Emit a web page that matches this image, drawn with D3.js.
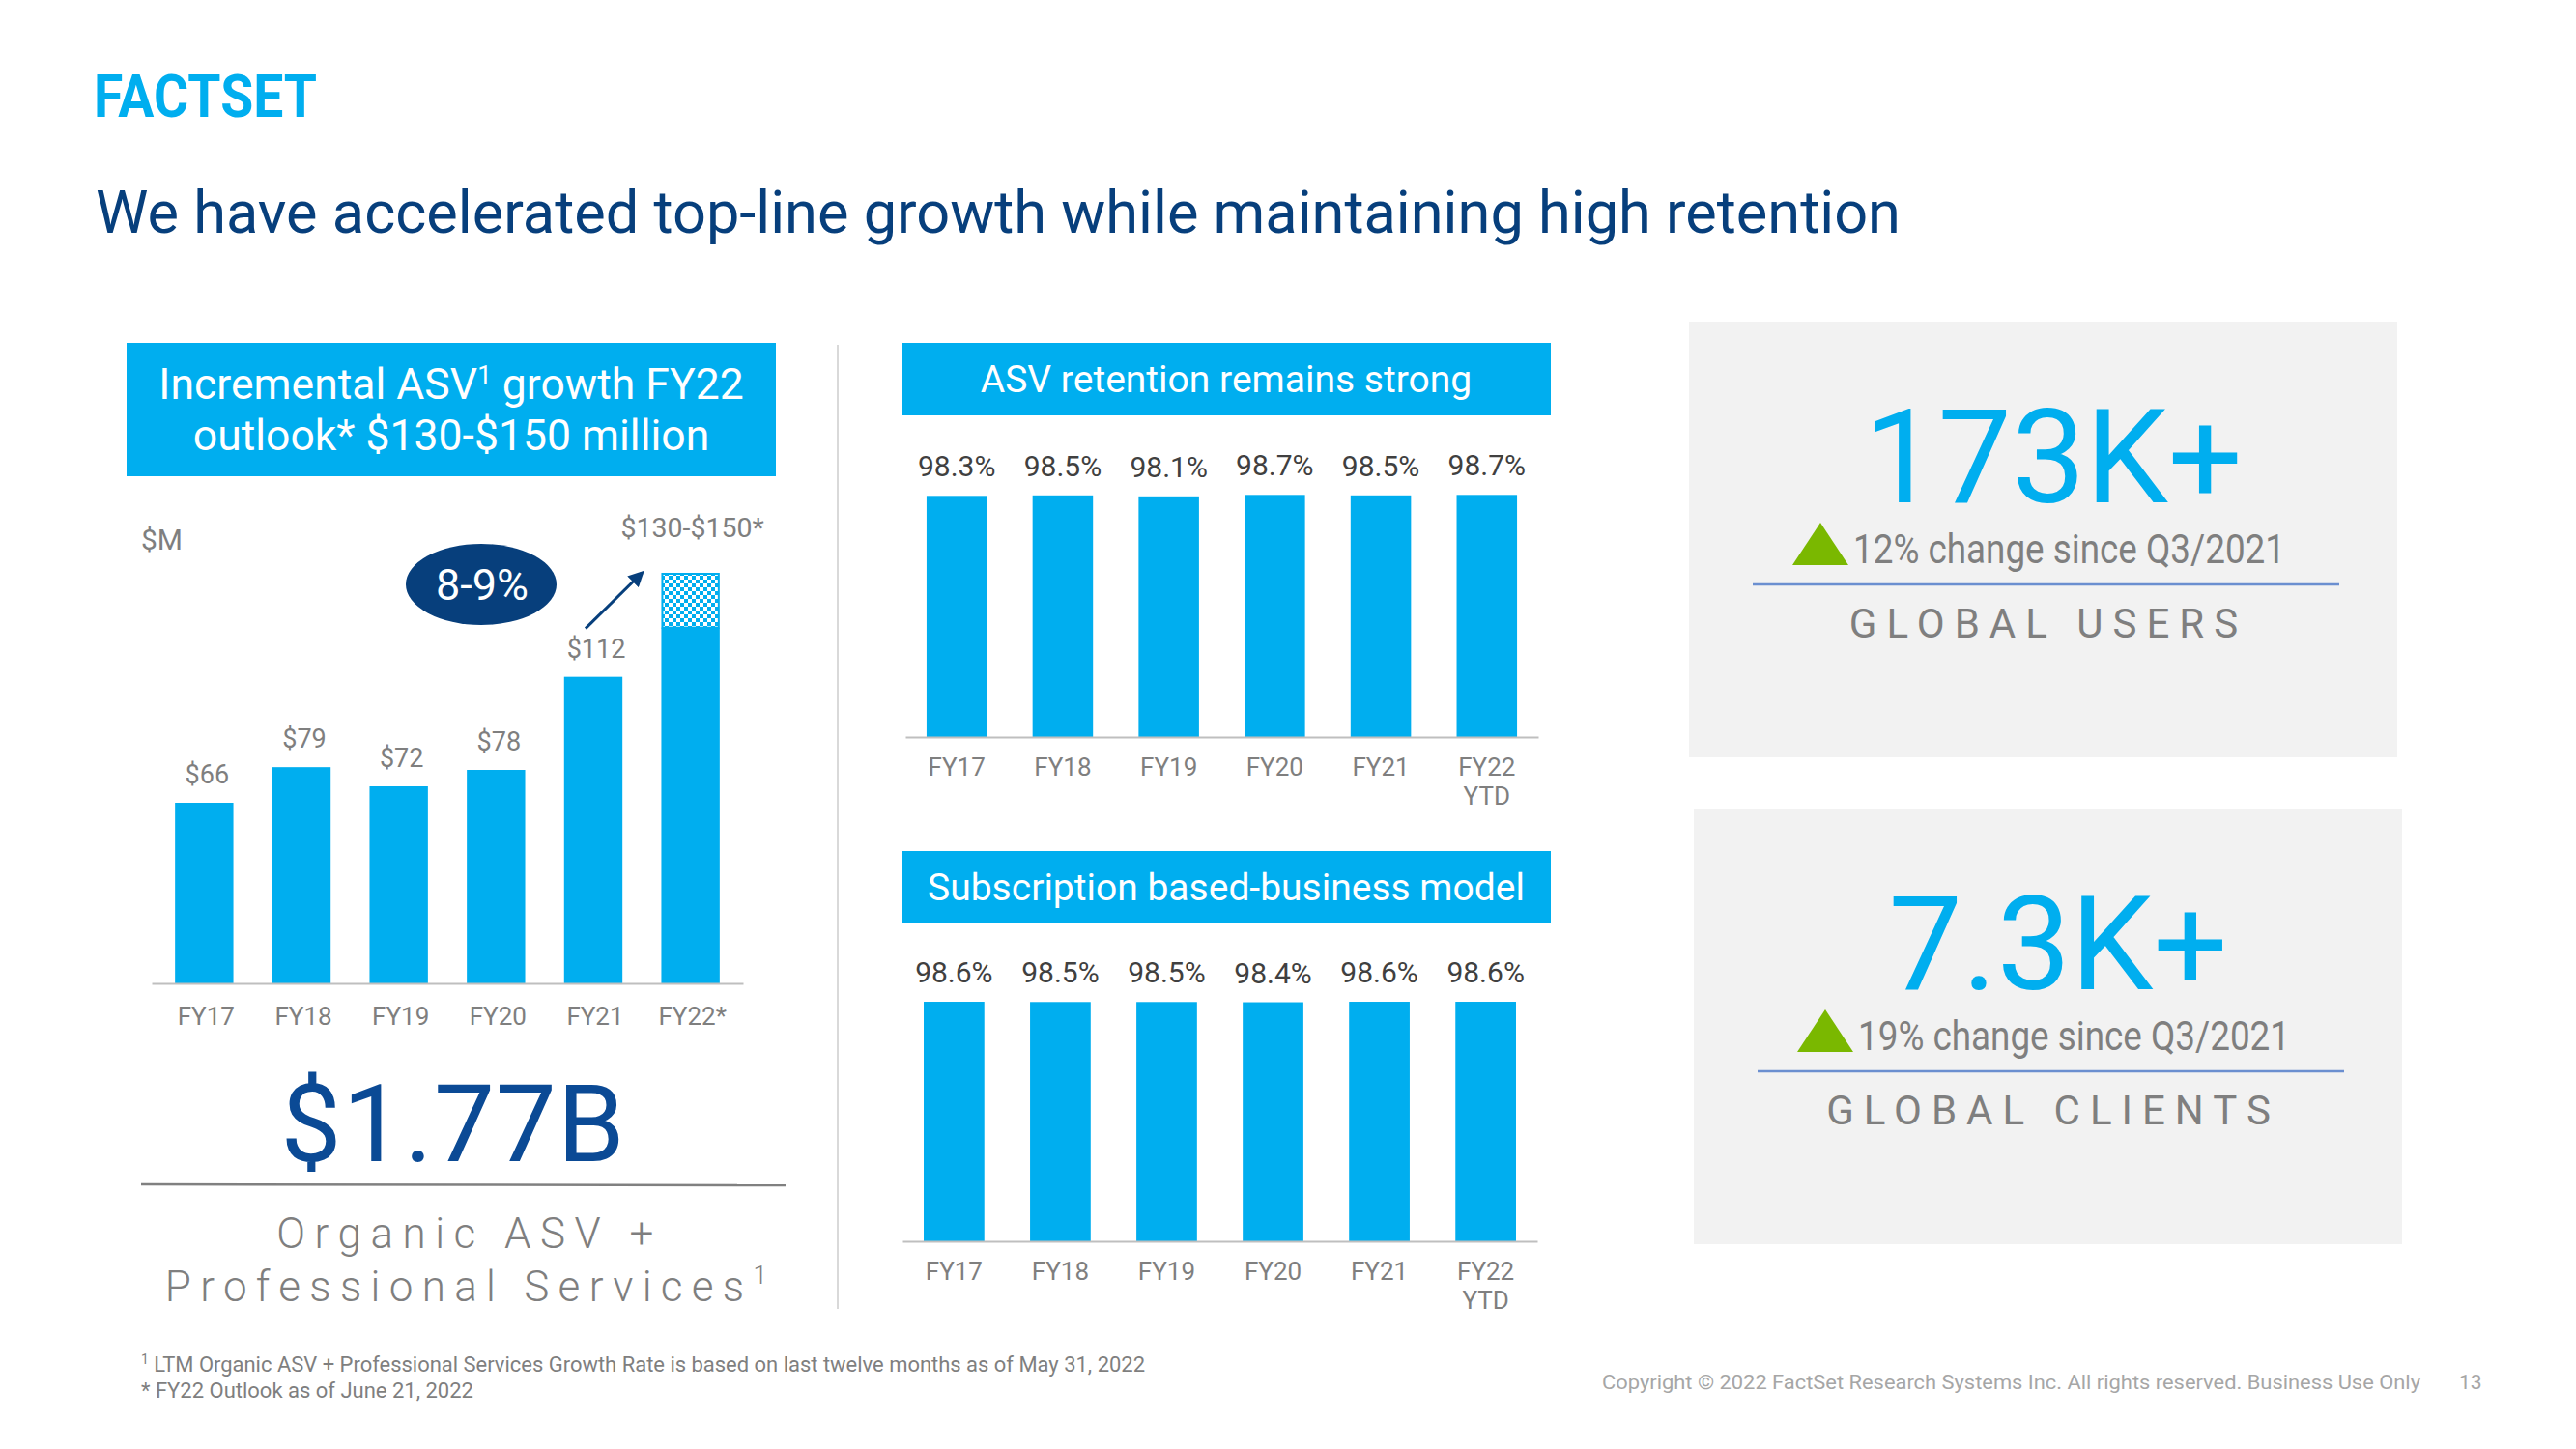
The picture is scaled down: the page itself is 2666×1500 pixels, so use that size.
<!DOCTYPE html>
<html><head><meta charset="utf-8">
<script src="https://cdn.jsdelivr.net/npm/d3@7"></script>
<style>
html,body{margin:0;padding:0;background:#fff;}
svg{display:block;font-family:Roboto,"Noto Sans",sans-serif;}
</style></head><body>
<svg id="chart" width="2666" height="1500"></svg>
<script>
// ---------------- data ----------------
const asvYears = ["FY17","FY18","FY19","FY20","FY21","FY22*"];
const asvIncrement = [66, 79, 72, 78, 112, 130];   // $M (FY22 solid = low end of outlook)
const fy22OutlookHigh = 150;                        // $M, top of outlook range (checkered)
const fy22OutlookLabel = "$130-$150*";
const growthBadge = "8-9%";

const retentionYears = ["FY17","FY18","FY19","FY20","FY21","FY22 YTD"];
const asvRetention = [98.3, 98.5, 98.1, 98.7, 98.5, 98.7];
const subscriptionRetention = [98.6, 98.5, 98.5, 98.4, 98.6, 98.6];

const kpiNumbers = ["173K+", "7.3K+"];
const kpiChanges = ["12%", "19%"];
const kpiNames = ["GLOBAL USERS", "GLOBAL CLIENTS"];

const organicTotal = "$1.77B";

// ---------------- styles ----------------
const CYAN = "#00AEEF", NAVY = "#073F7C", GRAY = "#7F7F7F", DARK = "#404040";

const svg = d3.select("#chart");
svg.append("rect").attr("width", 2666).attr("height", 1500).attr("fill", "#fff");

const defs = svg.append("defs");
const pat = defs.append("pattern").attr("id", "checker").attr("patternUnits", "userSpaceOnUse")
  .attr("width", 8).attr("height", 8);
pat.append("rect").attr("width", 8).attr("height", 8).attr("fill", "#fff");
pat.append("rect").attr("width", 4).attr("height", 4).attr("fill", CYAN);
pat.append("rect").attr("x", 4).attr("y", 4).attr("width", 4).attr("height", 4).attr("fill", CYAN);
const mk = defs.append("marker").attr("id", "arrowhead").attr("viewBox", "0 0 10 10")
  .attr("refX", 8).attr("refY", 5).attr("markerWidth", 5.5).attr("markerHeight", 5.5).attr("orient", "auto");
mk.append("path").attr("d", "M0,0 L10,5 L0,10 z").attr("fill", NAVY);

// ---------------- logo + title ----------------
svg.append("text").attr("x", 97).attr("y", 121).attr("font-size", 62).attr("font-weight", 700)
  .attr("fill", CYAN).attr("textLength", 231).attr("lengthAdjust", "spacingAndGlyphs").text("FACTSET");
svg.append("text").attr("x", 99).attr("y", 241).attr("font-size", 61.3).attr("fill", NAVY)
  .text("We have accelerated top-line growth while maintaining high retention");

// ---------------- left panel ----------------
svg.append("rect").attr("x", 131).attr("y", 355).attr("width", 672).attr("height", 138).attr("fill", CYAN);
const h1 = svg.append("text").attr("text-anchor", "middle").attr("font-size", 44.5).attr("fill", "#fff");
const l1 = h1.append("tspan").attr("x", 467).attr("y", 413);
l1.append("tspan").text("Incremental ASV");
l1.append("tspan").attr("font-size", 26).attr("dy", -16).text("1");
l1.append("tspan").attr("dy", 16).text(" growth FY22");
h1.append("tspan").attr("x", 467).attr("y", 466).text("outlook* $130-$150 million");

svg.append("text").attr("x", 146).attr("y", 569).attr("font-size", 30).attr("fill", GRAY).text("$M");

const x1 = d3.scaleBand().domain(asvYears).range([157, 769]).paddingInner(0.4).paddingOuter(0.24);
const y1 = d3.scaleLinear().domain([0, fy22OutlookHigh]).range([1018, 593]);

svg.append("g").selectAll("rect").data(asvYears).join("rect")
  .attr("x", d => x1(d)).attr("width", x1.bandwidth())
  .attr("y", (d, i) => y1(asvIncrement[i])).attr("height", (d, i) => y1(0) - y1(asvIncrement[i]))
  .attr("fill", CYAN);
const lastYear = asvYears[asvYears.length - 1];
svg.append("rect").attr("x", x1(lastYear) + 1).attr("width", x1.bandwidth() - 2)
  .attr("y", y1(fy22OutlookHigh) + 1).attr("height", y1(asvIncrement[5]) - y1(fy22OutlookHigh) - 1)
  .attr("fill", "url(#checker)").attr("stroke", CYAN).attr("stroke-width", 2);

svg.append("g").selectAll("text").data(asvYears.slice(0, 5)).join("text")
  .attr("x", d => x1(d) + x1.bandwidth() / 2 + 3).attr("y", (d, i) => y1(asvIncrement[i]) - 20)
  .attr("text-anchor", "middle").attr("font-size", 27).attr("fill", GRAY)
  .text((d, i) => "$" + asvIncrement[i]);
svg.append("text").attr("x", x1(lastYear) + x1.bandwidth() / 2 + 2).attr("y", y1(fy22OutlookHigh) - 37)
  .attr("text-anchor", "middle").attr("font-size", 28.5).attr("fill", GRAY).text(fy22OutlookLabel);

const ax1 = svg.append("g").attr("transform", `translate(0,${y1(0)})`)
  .call(d3.axisBottom(x1).tickSize(0).tickSizeOuter(0));
ax1.select(".domain").attr("stroke", "#BFBFBF").attr("stroke-width", 2);
ax1.selectAll("text").attr("dy", null).attr("y", 43).attr("font-size", 26)
  .attr("font-family", "Roboto").attr("fill", GRAY).attr("dx", 2);

// badge + arrow
svg.append("ellipse").attr("cx", 498).attr("cy", 605).attr("rx", 78).attr("ry", 42).attr("fill", NAVY);
svg.append("text").attr("x", 499).attr("y", 621).attr("text-anchor", "middle").attr("font-size", 45)
  .attr("fill", "#fff").text(growthBadge);
svg.append("line")
  .attr("x1", x1("FY21") + x1.bandwidth() / 2 - 8).attr("y1", y1(asvIncrement[4]) - 50)
  .attr("x2", x1(lastYear) - 20).attr("y2", y1(fy22OutlookHigh))
  .attr("stroke", NAVY).attr("stroke-width", 3).attr("marker-end", "url(#arrowhead)");

// total
svg.append("text").attr("x", 469).attr("y", 1202).attr("text-anchor", "middle").attr("font-size", 112)
  .attr("fill", "#0B4A95").attr("letter-spacing", 1).text(organicTotal);
svg.append("line").attr("x1", 146).attr("x2", 813).attr("y1", 1226).attr("y2", 1227)
  .attr("stroke", "#808080").attr("stroke-width", 2.5);
svg.append("text").attr("x", 486).attr("y", 1292).attr("text-anchor", "middle").attr("font-size", 44)
  .attr("font-weight", 300).attr("letter-spacing", 9.5).attr("fill", GRAY).text("Organic ASV +");
const ps = svg.append("text").attr("x", 487).attr("y", 1347).attr("text-anchor", "middle").attr("font-size", 44)
  .attr("font-weight", 300).attr("letter-spacing", 9.3).attr("fill", GRAY);
ps.append("tspan").text("Professional Services");
ps.append("tspan").attr("font-size", 26).attr("dy", -18).text("1");

// divider
svg.append("line").attr("x1", 867).attr("x2", 867).attr("y1", 357).attr("y2", 1355)
  .attr("stroke", "#D9D9D9").attr("stroke-width", 2);

// ---------------- middle panels ----------------
function retentionChart(cfg) {
  svg.append("rect").attr("x", cfg.boxX).attr("y", cfg.boxY).attr("width", 672).attr("height", 75).attr("fill", CYAN);
  svg.append("text").attr("x", cfg.boxX + 336).attr("y", cfg.boxY + 51).attr("text-anchor", "middle")
    .attr("font-size", 39).attr("fill", "#fff").text(cfg.title);
  const x = d3.scaleBand().domain(retentionYears).range(cfg.xr).paddingInner(0.43).paddingOuter(0.2);
  const y = d3.scaleLinear().domain([0, 100]).range([cfg.y0, cfg.y0 - cfg.h100]);
  svg.append("g").selectAll("rect").data(retentionYears).join("rect")
    .attr("x", d => x(d)).attr("width", x.bandwidth())
    .attr("y", (d, i) => y(cfg.values[i])).attr("height", (d, i) => y(0) - y(cfg.values[i]))
    .attr("fill", CYAN);
  svg.append("g").selectAll("text").data(retentionYears).join("text")
    .attr("x", d => x(d) + x.bandwidth() / 2).attr("y", (d, i) => y(cfg.values[i]) - 20)
    .attr("text-anchor", "middle").attr("font-size", 30).attr("fill", DARK)
    .text((d, i) => cfg.values[i].toFixed(1) + "%");
  const ax = svg.append("g").attr("transform", `translate(0,${cfg.y0})`)
    .call(d3.axisBottom(x).tickSize(0).tickSizeOuter(0).tickFormat(""));
  ax.select(".domain").attr("stroke", "#BFBFBF").attr("stroke-width", 2);
  ax.selectAll(".tick text").attr("dy", null).attr("y", 40).attr("font-size", 26)
    .attr("font-family", "Roboto").attr("fill", GRAY)
    .each(function (d) {
      const t = d3.select(this);
      d.split(" ").forEach((w, k) => t.append("tspan").attr("x", 0).attr("dy", k ? 30 : 0).text(w));
    });
}
retentionChart({ boxX: 933, boxY: 355, title: "ASV retention remains strong",
  xr: [937, 1592], y0: 763, h100: 254, values: asvRetention });
retentionChart({ boxX: 933, boxY: 881, title: "Subscription based-business model",
  xr: [934, 1591], y0: 1285, h100: 251.5, values: subscriptionRetention });

// ---------------- KPI boxes ----------------
function kpi(i, bx, by) {
  svg.append("rect").attr("x", bx).attr("y", by).attr("width", 733).attr("height", 451).attr("fill", "#F2F2F2");
  const cx = bx + 377;
  svg.append("text").attr("x", cx).attr("y", by + 187).attr("text-anchor", "middle").attr("font-size", 136)
    .attr("fill", CYAN).text(kpiNumbers[i]);
  const tx = bx + 107;
  svg.append("path").attr("d", `M${tx},${by + 252} L${tx + 29},${by + 208} L${tx + 58},${by + 252} Z`).attr("fill", "#7AB800");
  svg.append("text").attr("x", tx + 63).attr("y", by + 250).attr("font-size", 42).attr("fill", GRAY)
    .attr("textLength", 447).attr("lengthAdjust", "spacingAndGlyphs")
    .text(kpiChanges[i] + " change since Q3/2021");
  svg.append("line").attr("x1", bx + 66).attr("x2", bx + 673).attr("y1", by + 272).attr("y2", by + 272)
    .attr("stroke", "#6B8FD0").attr("stroke-width", 2.5);
  svg.append("text").attr("x", bx + 372).attr("y", by + 327).attr("text-anchor", "middle").attr("font-size", 42)
    .attr("letter-spacing", 10).attr("fill", GRAY).text(kpiNames[i]);
}
kpi(0, 1748, 333);
kpi(1, 1753, 837);

// ---------------- footnotes ----------------
const fn = svg.append("text").attr("x", 146).attr("y", 1420).attr("font-size", 22).attr("fill", GRAY)
  .attr("textLength", 1039).attr("lengthAdjust", "spacingAndGlyphs");
fn.append("tspan").attr("font-size", 14).attr("dy", -8).text("1");
fn.append("tspan").attr("dy", 8).text(" LTM Organic ASV + Professional Services Growth Rate is based on last twelve months as of May 31, 2022");
svg.append("text").attr("x", 146).attr("y", 1447).attr("font-size", 22).attr("fill", GRAY)
  .text("* FY22 Outlook as of June 21, 2022");
svg.append("text").attr("x", 1658).attr("y", 1438).attr("font-size", 21).attr("fill", "#A6A6A6")
  .attr("textLength", 847).attr("lengthAdjust", "spacingAndGlyphs")
  .text("Copyright \u00A9 2022 FactSet Research Systems Inc. All rights reserved. Business Use Only");
svg.append("text").attr("x", 2545).attr("y", 1438).attr("font-size", 21).attr("fill", "#A6A6A6").text("13");
</script>
</body></html>
